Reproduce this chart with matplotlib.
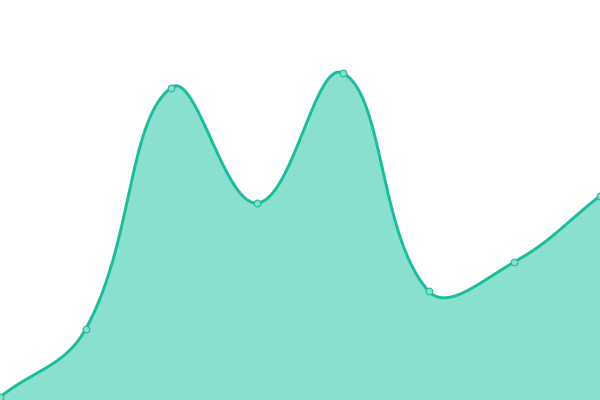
import numpy as np
import matplotlib
matplotlib.use("Agg")
import matplotlib.pyplot as plt

categories = [0, 1, 2, 3, 4, 5, 6, 7]
values = [3, 71, 312.5, 197, 327, 109, 138, 204]

def chartjs_spline(xs, ys, xscale, tension=0.4, n=80):
    # work in pixel-like space so that distances match the drawing
    P = np.column_stack([np.asarray(xs, float) * xscale, np.asarray(ys, float)])
    N = len(P)
    cin = np.zeros_like(P); cout = np.zeros_like(P)
    for i in range(N):
        prev = P[max(i - 1, 0)]; cur = P[i]; nxt = P[min(i + 1, N - 1)]
        d01 = np.hypot(*(cur - prev)); d12 = np.hypot(*(nxt - cur))
        tot = d01 + d12
        s01 = d01 / tot if tot else 0; s12 = d12 / tot if tot else 0
        fa = tension * s01; fb = tension * s12
        cin[i] = cur - fa * (nxt - prev)
        cout[i] = cur + fb * (nxt - prev)
    t = np.linspace(0, 1, n)[:, None]
    segs = []
    for i in range(N - 1):
        p0, p1, p2, p3 = P[i], cout[i], cin[i + 1], P[i + 1]
        segs.append((1-t)**3*p0 + 3*(1-t)**2*t*p1 + 3*(1-t)*t**2*p2 + t**3*p3)
    S = np.concatenate(segs)
    return S[:, 0] / xscale, S[:, 1]

fig = plt.figure(figsize=(6, 4), dpi=100)
ax = fig.add_axes([0, 0, 1, 1])
sx, sy = chartjs_spline(categories, values, 600 / 7)
ax.fill_between(sx, sy, 0, color="#89e0cf", lw=0)
ax.plot(sx, sy, color="#1abc9c", lw=2.1, solid_capstyle="round")
ax.plot(categories, values, ls="none", marker="o", ms=4.8,
        mfc="#89e0cf", mec="#1abc9c", mew=0.8)
ax.set_xlim(0, 7)
ax.set_ylim(0, 400)
ax.axis("off")
fig.savefig("out.png", dpi=100)
